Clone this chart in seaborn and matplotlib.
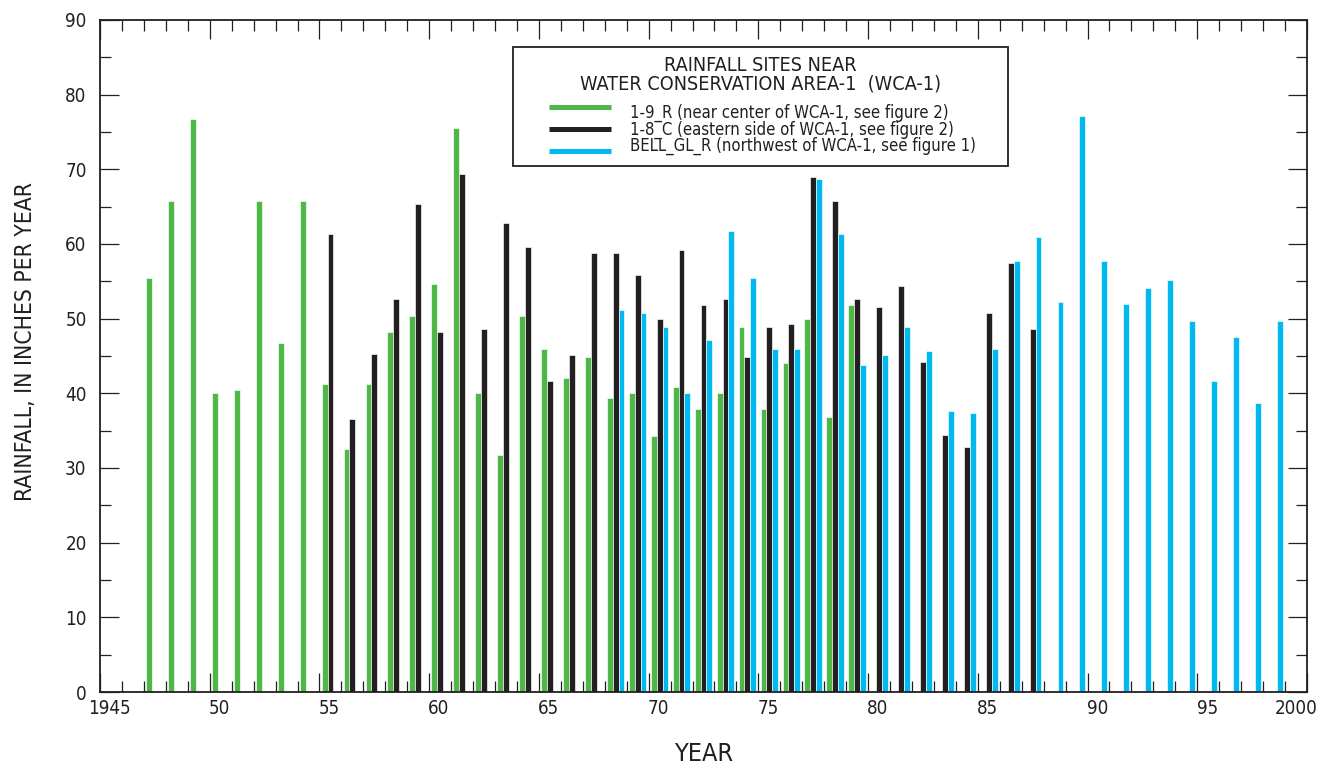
import numpy as np
import pandas as pd
import matplotlib
matplotlib.use("Agg")
import matplotlib.pyplot as plt
from matplotlib import font_manager
from matplotlib.font_manager import FontProperties
from matplotlib.lines import Line2D
from matplotlib.patches import Rectangle
from matplotlib.ticker import MultipleLocator
import seaborn as sns

# Annual rainfall (inches per year) at three sites near WCA-1
sites = ["1-9_R", "1-8_C", "BELL_GL_R"]
site_labels = [
    "1-9_R (near center of WCA-1, see figure 2)",
    "1-8_C (eastern side of WCA-1, see figure 2)",
    "BELL_GL_R (northwest of WCA-1, see figure 1)",
]

years_1_9_r = list(range(1947, 1980))
rain_1_9_r = [55.5, 65.7, 76.7, 40.1, 40.5, 65.7, 46.7, 65.7, 41.3, 32.5,
              41.3, 48.2, 50.4, 54.7, 75.6, 40.1, 31.7, 50.4, 46.0, 42.0,
              44.9, 39.4, 40.1, 34.3, 40.9, 37.9, 40.1, 48.9, 37.9, 44.1,
              50.0, 36.8, 51.8]

years_1_8_c = list(range(1955, 1988))
rain_1_8_c = [61.3, 36.5, 45.3, 52.6, 65.4, 48.2, 69.4, 48.6, 62.8, 59.6,
              41.6, 45.2, 58.8, 58.8, 55.8, 50.0, 59.2, 51.8, 52.6, 44.9,
              48.9, 49.3, 69.0, 65.7, 52.6, 51.5, 54.4, 44.2, 34.4, 32.8,
              50.8, 57.4, 48.6]

years_bell = list(range(1968, 1999))
rain_bell = [51.1, 50.7, 48.9, 40.1, 47.1, 61.7, 55.5, 46.0, 46.0, 68.7,
             61.3, 43.8, 45.2, 48.9, 45.7, 37.6, 37.3, 46.0, 57.7, 61.0,
             52.2, 77.1, 57.7, 51.9, 54.1, 55.2, 49.7, 41.6, 47.5, 38.7, 49.7]

year_tick_labels = ["1945", "50", "55", "60", "65", "70", "75", "80",
                    "85", "90", "95", "2000"]
year_tick_values = [1945, 1950, 1955, 1960, 1965, 1970, 1975, 1980,
                    1985, 1990, 1995, 2000]

colors = {"1-9_R": "#4DB848", "1-8_C": "#231F20", "BELL_GL_R": "#00B9F1"}
INK = "#231F20"

df = pd.concat([
    pd.DataFrame({"year": years_1_9_r, "rain": rain_1_9_r, "site": sites[0]}),
    pd.DataFrame({"year": years_1_8_c, "rain": rain_1_8_c, "site": sites[1]}),
    pd.DataFrame({"year": years_bell, "rain": rain_bell, "site": sites[2]}),
], ignore_index=True)
# each year spans [Y, Y+1]; its group of bars sits in the middle of that span
df["mid"] = df["year"] + 0.5

sns.set_theme(style="ticks")
available = {f.name for f in font_manager.fontManager.ttflist}
if "Liberation Sans Narrow" in available:
    base_font = "Liberation Sans Narrow"
elif "DejaVu Sans Condensed" in available:
    base_font = "DejaVu Sans Condensed"
else:
    base_font = "DejaVu Sans"
    plt.rcParams["font.stretch"] = "condensed"
plt.rcParams["font.family"] = [base_font, "DejaVu Sans"]
plt.rcParams["text.color"] = INK

W, H = 1317, 766
fig = plt.figure(figsize=(W / 100, H / 100), dpi=100)
L, R, T, B = 100, 1307, 20, 692
ax = fig.add_axes([L / W, 1 - B / H, (R - L) / W, (B - T) / H])

sns.barplot(data=df, x="mid", y="rain", hue="site", hue_order=sites,
            palette=colors, native_scale=True, width=0.8, dodge=True,
            errorbar=None, legend=False, saturation=1,
            edgecolor="white", linewidth=0.45, ax=ax)

ax.set_xlim(1945, 2000)
ax.set_ylim(0, 90)

for side in ["left", "right", "top", "bottom"]:
    ax.spines[side].set_visible(True)
    ax.spines[side].set_color(INK)
    ax.spines[side].set_linewidth(1.3)

ax.xaxis.set_major_locator(MultipleLocator(5))
ax.xaxis.set_minor_locator(MultipleLocator(1))
ax.yaxis.set_major_locator(MultipleLocator(10))
ax.yaxis.set_minor_locator(MultipleLocator(5))
ax.tick_params(axis="both", which="both", direction="in", top=True,
               right=True, color=INK, width=0.9)
ax.tick_params(which="major", length=13.5)
ax.tick_params(which="minor", length=8)
ax.tick_params(axis="x", which="both", labelbottom=False)
ax.tick_params(axis="y", which="major", labelsize=13.5, pad=9.6,
               labelcolor=INK)

# year labels sit mid-year; the last one is nudged inward to stay on the page
label_pos = [v + 0.45 for v in year_tick_values]
label_pos[-1] = year_tick_values[-1] - 0.5
sec = ax.secondary_xaxis("bottom")
sec.set_xticks(label_pos, labels=year_tick_labels)
sec.tick_params(length=0, pad=5, labelsize=13.5, labelcolor=INK)
sec.spines["bottom"].set_visible(False)

ax.set_xlabel("YEAR", fontsize=18, color=INK)
ax.xaxis.set_label_coords(0.5, -0.0744)
ax.set_ylabel("RAINFALL, IN INCHES PER YEAR", fontsize=16.4, color=INK)
ax.yaxis.set_label_coords(-0.052, 0.5216)


# legend box drawn in axes coordinates
def fx(px):
    return (px - L) / (R - L)


def fy(py):
    return (B - py) / (B - T)


renderer = fig.canvas.get_renderer()


def block_text(x_px, first_baseline_px, line_step_px, text, size, **kw):
    """Multi-line text with a given first baseline and baseline step (px)."""
    props = FontProperties(family=plt.rcParams["font.family"], size=size)
    _, lp_h, lp_d = renderer.get_text_width_height_descent("lp", props,
                                                            ismath=False)
    spacing = (line_step_px - lp_d) / (lp_h - lp_d)
    top_px = first_baseline_px - (lp_h - lp_d)
    ax.text(fx(x_px), fy(top_px), text, transform=ax.transAxes, va="top",
            fontsize=size, linespacing=spacing, zorder=6, **kw)


ax.add_patch(Rectangle((fx(513), fy(166)), fx(1008) - fx(513),
                       fy(47) - fy(166), transform=ax.transAxes,
                       facecolor="white", edgecolor=INK, linewidth=1.3,
                       zorder=5))
block_text(760.5, 70.7, 19.3,
           "RAINFALL SITES NEAR\nWATER CONSERVATION AREA-1  (WCA-1)",
           14.2, ha="center", multialignment="center")
block_text(630, 117.3, 16.7, "\n".join(site_labels), 12.0, ha="left")

for site, hy in zip(sites, [107, 129.3, 151.3]):
    ax.add_line(Line2D([fx(549), fx(611)], [fy(hy), fy(hy)],
                       transform=ax.transAxes, color=colors[site],
                       linewidth=3.6, solid_capstyle="butt", zorder=6))

fig.savefig("out.png", dpi=100)
